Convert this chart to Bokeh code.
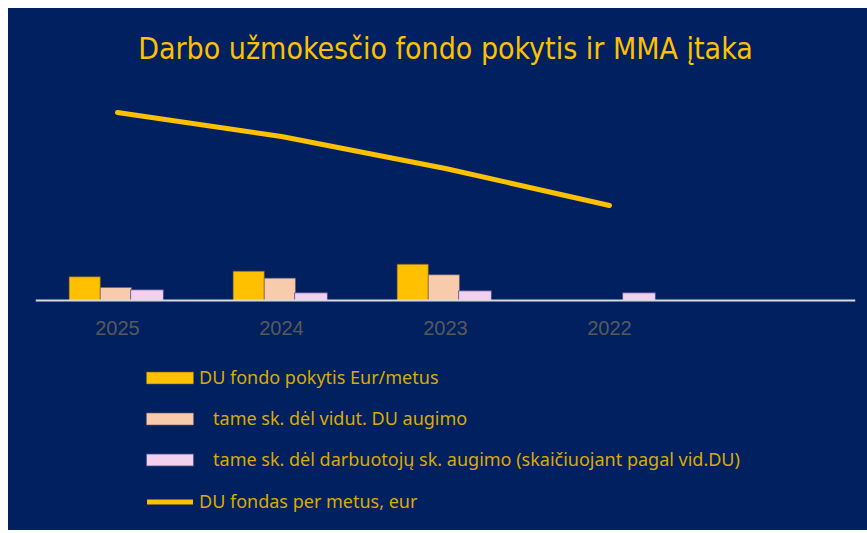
from bokeh.plotting import figure
from bokeh.models import ColumnDataSource, FactorRange, Range1d, Legend, LegendItem, Spacer
from bokeh.layouts import column, row
from bokeh.transform import dodge
from bokeh.embed import file_html
from bokeh.resources import INLINE

NAN = float("nan")

# ---- data (arbitrary units, no y-axis shown) ----
years = ["2025", "2024", "2023", "2022"]
extra_slot = [" "]                       # empty category on the right
fund_change = [2.37, 2.93, 3.63, NAN]     # DU fondo pokytis Eur/metus
due_avg_wage = [1.30, 2.23, 2.57, NAN]    # tame sk. dėl vidut. DU augimo
due_employees = [1.07, 0.77, 0.97, 0.77]  # tame sk. dėl darbuotojų sk. augimo
fund_total = [18.8, 16.4, 13.2, 9.5]      # DU fondas per metus, eur

labels = [
    "DU fondo pokytis Eur/metus",
    "\u00a0\u00a0\u00a0tame sk. dėl vidut. DU augimo",
    "\u00a0\u00a0\u00a0tame sk. dėl darbuotojų sk. augimo (skaičiuojant pagal vid.DU)",
    "DU fondas per metus, eur",
]

NAVY = "#002060"
GOLD = "#FFC000"
PEACH = "#F8CBAD"
PINK = "#F2D0EE"
LABEL_GOLD = "#DDAA00"

src = ColumnDataSource(dict(year=years, a=fund_change, b=due_avg_wage,
                            c=due_employees, t=fund_total))

p = figure(x_range=FactorRange(*(years + extra_slot), range_padding=0),
           y_range=Range1d(-22.8, 22.0),
           width=859, height=522, output_backend="svg", toolbar_location=None,
           title="Darbo užmokesčio fondo pokytis ir MMA įtaka",
           min_border_left=27, min_border_right=12, min_border_top=72,
           min_border_bottom=2)

p.styles = {"background-color": NAVY}
p.background_fill_color = NAVY
p.border_fill_color = NAVY
p.outline_line_color = None
p.grid.visible = False
p.yaxis.visible = False

p.title.align = "center"
p.title.text_color = GOLD
p.title.text_font = "DejaVu Sans Condensed"
p.title.text_font_size = "30px"
p.title.text_font_style = "normal"
p.title.standoff = 29

xa = p.xaxis[0]
xa.fixed_location = 0
xa.axis_line_color = "#D9D9D9"
xa.axis_line_width = 2
xa.major_tick_line_color = None
xa.minor_tick_line_color = None
xa.major_tick_out = 0
xa.major_label_standoff = 16
xa.major_label_text_color = "#595959"
xa.major_label_text_font = "Liberation Sans"
xa.major_label_text_font_size = "20px"

w = 0.19
r1 = p.vbar(x=dodge("year", -0.2, range=p.x_range), top="a", width=w, source=src,
            fill_color=GOLD, line_color="#6B5A2A", line_width=0.6)
r2 = p.vbar(x=dodge("year", -0.01, range=p.x_range), top="b", width=w, source=src,
            fill_color=PEACH, line_color="#6B5A6A", line_width=0.6)
r3 = p.vbar(x=dodge("year", 0.18, range=p.x_range), top="c", width=w + 0.01, source=src,
            fill_color=PINK, line_color="#4A4A8A", line_width=0.8)
r4 = p.line(x="year", y="t", source=src, line_color=GOLD, line_width=5,
            line_cap="round", line_join="round")

common = dict(orientation="vertical", padding=0, margin=0,
              background_fill_alpha=0, border_line_alpha=0,
              label_text_color=LABEL_GOLD, label_text_font="Noto Sans",
              label_text_font_size="18px")

legend_bars = Legend(items=[LegendItem(label=labels[0], renderers=[r1]),
                            LegendItem(label=labels[1], renderers=[r2]),
                            LegendItem(label=labels[2], renderers=[r3])],
                     location=(105, 57), glyph_width=59, glyph_height=15,
                     label_height=20, spacing=17, label_standoff=0, **common)
legend_line = Legend(items=[LegendItem(label=labels[3], renderers=[r4])],
                     location=(112, 15), glyph_width=46, glyph_height=15,
                     label_height=20, spacing=0, label_standoff=6, **common)
p.add_layout(legend_bars, "center")
p.add_layout(legend_line, "center")

layout = column(Spacer(height=8), row(Spacer(width=8), p))
open("out.html", "w").write(file_html(layout, INLINE))
